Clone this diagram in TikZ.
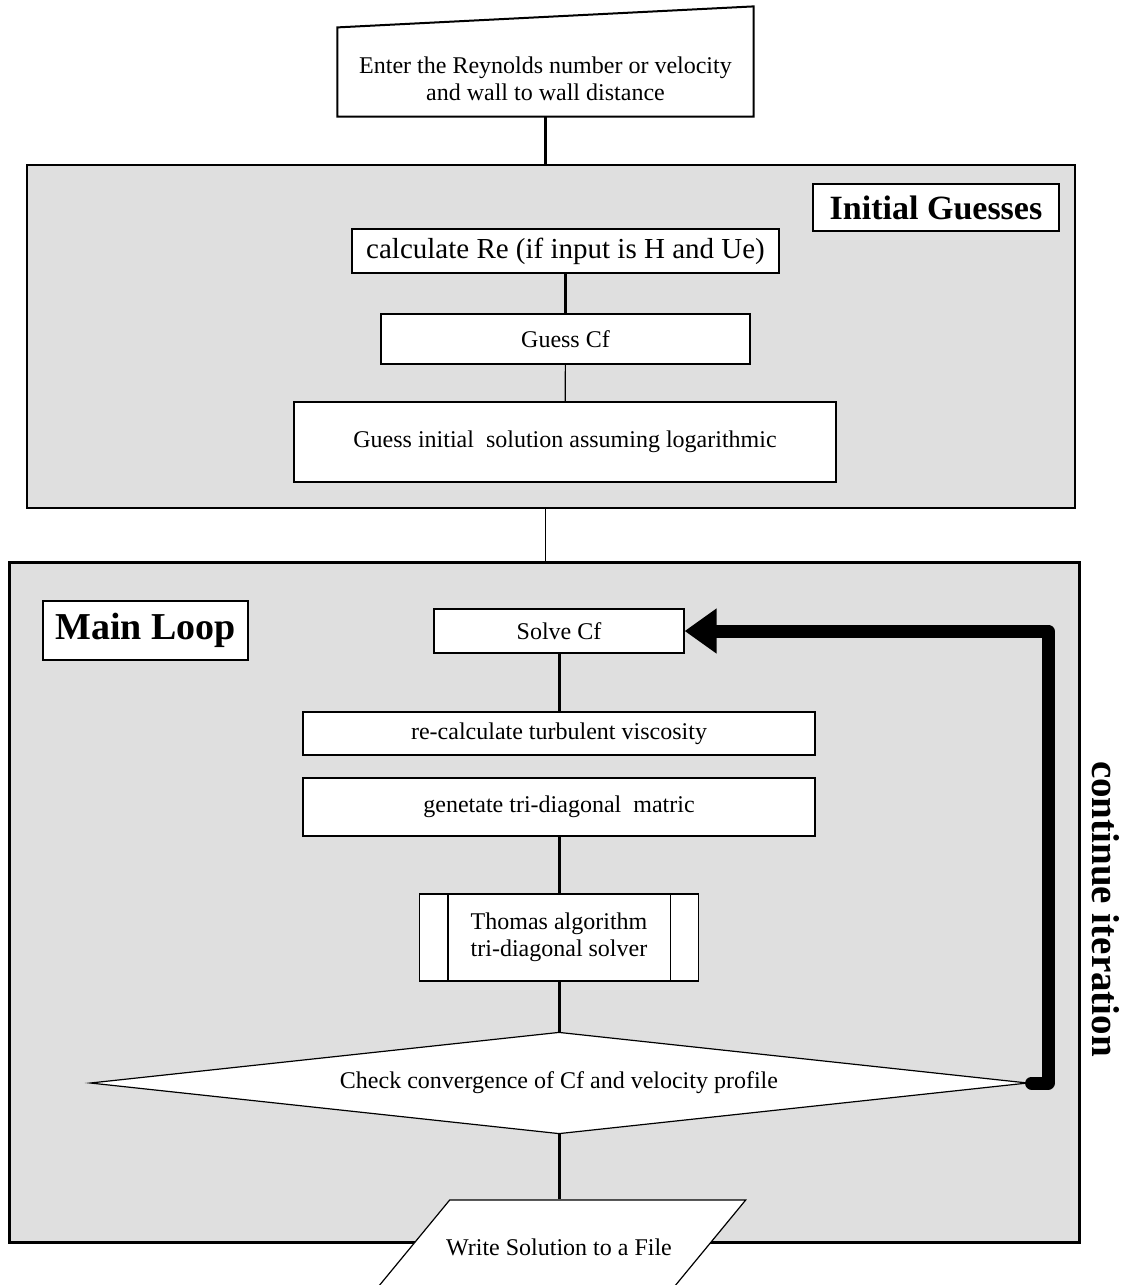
\documentclass[tikz,border=0pt]{standalone}
\usepackage{fontspec}
\setmainfont{Liberation Serif}
\usetikzlibrary{positioning, arrows.meta, calc}
\definecolor{panelgray}{RGB}{223,223,223}
\pgfdeclarelayer{panels}
\pgfdeclarelayer{shapes}
\pgfsetlayers{panels,shapes,main}

\begin{document}
\begin{tikzpicture}[x=0.5pt, y=-0.5pt,
    stepbox/.style={draw, fill=white, line width=0.6pt, inner sep=0pt, align=center,
      font=\fontsize{12}{13.5}\selectfont},
    textonly/.style={stepbox, draw=none, fill=none},
    titlebox/.style={draw, fill=white, line width=0.6pt, inner sep=0pt, font=\bfseries},
    panel/.style={draw, fill=panelgray, inner sep=0pt},
    link/.style={line width=1.5pt},
    thinlink/.style={line width=0.6pt}]

  \clip (0,0) rectangle (1137,1285);

  % Panels
  \begin{pgfonlayer}{panels}
  \node[panel, line width=0.6pt, minimum width=524pt, minimum height=171.5pt] (initpanel) at (551,336.5) {};
  \node[panel, line width=1.5pt, minimum width=535pt, minimum height=340pt] (looppanel) at (544,902) {};
  \end{pgfonlayer}

  % Nodes
  \node[textonly, minimum width=207.5pt, minimum height=37pt] (input) at (545.5,79)
    {Enter the Reynolds number or velocity\\and wall to wall distance};
  \node[titlebox, minimum width=123pt, minimum height=23.5pt, font=\bfseries\fontsize{17}{20}\selectfont] (initlabel) at (936,207.5) {Initial Guesses};
  \node[stepbox, minimum width=213.5pt, minimum height=22pt, font=\fontsize{14.5}{16}\selectfont] (calcre) at (565.5,251) {calculate Re (if input is H and Ue)};
  \node[stepbox, minimum width=184.5pt, minimum height=25pt] (guesscf) at (565.5,339) {Guess Cf};
  \node[stepbox, minimum width=271pt, minimum height=40pt] (guesssol) at (565,442) {Guess initial~ solution assuming logarithmic};

  \node[titlebox, minimum width=102.5pt, minimum height=29.5pt, font=\bfseries\fontsize{19}{22}\selectfont] (looplabel) at (145.5,630.5) {Main Loop};
  \node[stepbox, minimum width=125pt, minimum height=22pt] (solvecf) at (559,631) {Solve Cf};
  \node[stepbox, minimum width=256pt, minimum height=21.5pt] (recalc) at (559,733.5) {re-calculate turbulent viscosity};
  \node[stepbox, minimum width=256pt, minimum height=29pt] (gentri) at (559,807) {genetate tri-diagonal~ matric};
  \node[stepbox, minimum width=139.5pt, minimum height=43.5pt] (thomas) at (559,937.5) {Thomas algorithm\\tri-diagonal solver};
  \node[textonly, minimum width=468pt, minimum height=50pt] (check) at (559,1083) {Check convergence of Cf and velocity profile};
  \node[textonly, minimum width=120pt, minimum height=47pt] (write) at (559,1247) {Write Solution to a File};
  \node[rotate=-90, font=\bfseries\fontsize{19.5}{22}\selectfont] (contlabel) at (1106,909) {continue iteration};
  \coordinate (loopright) at (1048,0);

  % Shapes
  \begin{pgfonlayer}{shapes}
  \draw[line width=1pt, fill=white] (input.south west) -- (input.south east)
    -- ($(input.north east)+(0,-35)$) -- ($(input.north west)+(0,-14)$) -- cycle;
  \draw[line width=0.6pt, fill=white] (check.west) -- (check.north) -- (check.east) -- (check.south) -- cycle;
  \draw[line width=0.6pt, fill=white] ($(write)+(-109.3,-47)$) -- ($(write)+(186.7,-47)$)
    -- ($(write)+(109.3,47)$) -- ($(write)+(-186.7,47)$) -- cycle;
  \end{pgfonlayer}
  \draw[line width=0.6pt] ([xshift=14.5pt]thomas.north west) -- ([xshift=14.5pt]thomas.south west);
  \draw[line width=0.6pt] ([xshift=-14.5pt]thomas.north east) -- ([xshift=-14.5pt]thomas.south east);

  % Arrows
  \draw[link] (input.south) -- (input.south |- initpanel.north);
  \draw[link] (calcre) -- (guesscf);
  \draw[thinlink] (guesscf) -- (guesssol);
  \draw[thinlink] (input.south |- initpanel.south) -- (input.south |- looppanel.north);
  \draw[link] (solvecf) -- (recalc);
  \draw[link] (gentri) -- (thomas);
  \draw[link] (thomas) -- (check.north);
  \draw[link] (check.south) -- (write.north);
  \draw[line width=6.5pt, line cap=round, line join=round, -{Triangle[length=16pt, width=21.5pt]}]
    ([xshift=2pt]check.east) -- (check.east -| loopright) |- (solvecf.east);
\end{tikzpicture}
\end{document}
